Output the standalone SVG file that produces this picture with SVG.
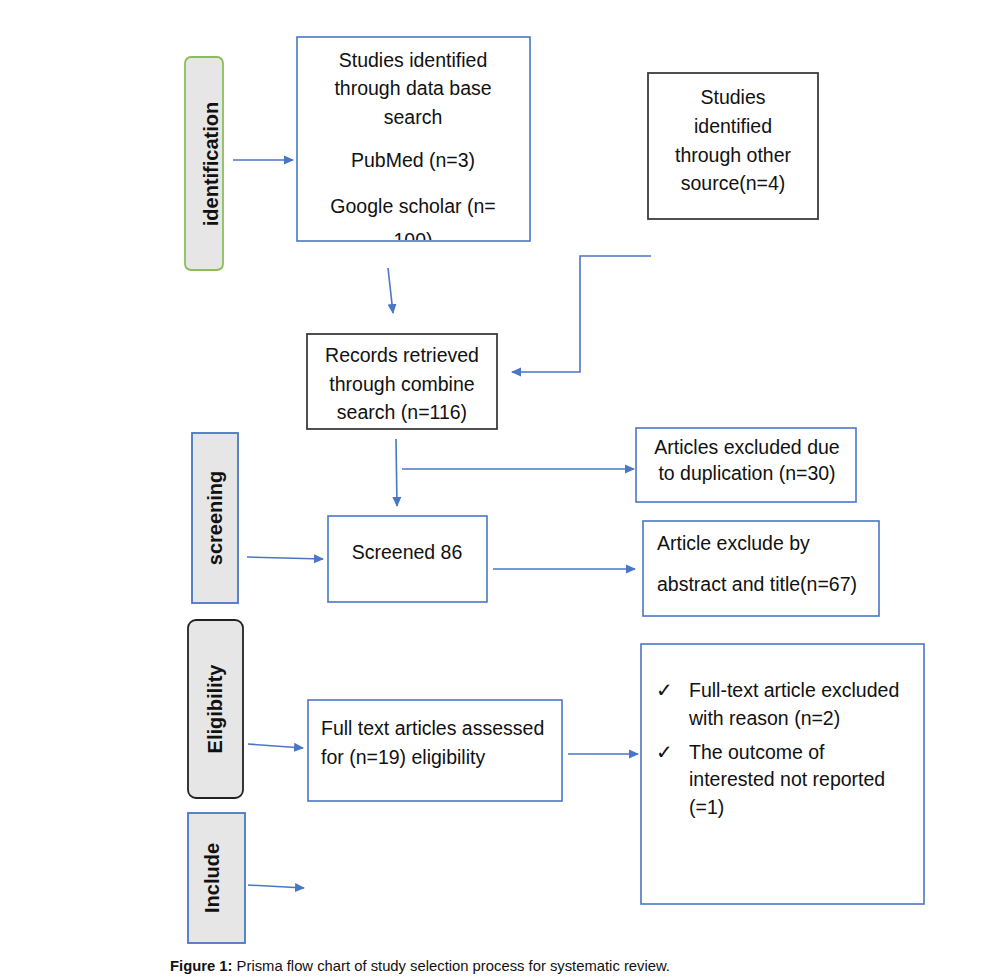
<svg xmlns="http://www.w3.org/2000/svg" width="1007" height="979" viewBox="0 0 1007 979">
<style>
.bx{fill:#fff;stroke:#4a76c6;stroke-width:1.6}
.bd{fill:#fff;stroke:#3c3c3c;stroke-width:1.8}
.lb{fill:#e6e6e6;stroke-width:1.8}
.t{font-family:"Liberation Sans",Arial,sans-serif;font-size:19.5px;fill:#111}
.c{text-anchor:middle}
.lt{font-family:"Liberation Sans",Arial,sans-serif;font-weight:bold;font-size:20px;fill:#111;text-anchor:middle}
.cn{fill:none;stroke:#4a76c6;stroke-width:1.6}
.cap{font-family:"Liberation Sans",Arial,sans-serif;font-size:14.8px;fill:#111}
</style>
<defs>
<marker id="ah" viewBox="0 0 10 10" refX="9" refY="5" markerWidth="10" markerHeight="10" orient="auto" markerUnits="userSpaceOnUse">
<path d="M0,0.5 L10,5 L0,9.5 z" fill="#4a76c6"/>
</marker>
<clipPath id="clipTop"><rect x="297" y="37" width="233" height="203"/></clipPath>
</defs>

<g id="label-identification">
<rect class="lb" x="185" y="57" width="38" height="213" rx="6" stroke="#8dbd5a"/>
<text class="lt" transform="translate(218,164) rotate(-90)">identification</text>
</g>
<g id="label-screening">
<rect class="lb" x="192" y="433" width="46" height="170" stroke="#4a76c6"/>
<text class="lt" transform="translate(222,518) rotate(-90)">screening</text>
</g>
<g id="label-eligibility">
<rect class="lb" x="188" y="620" width="55" height="178" rx="8" stroke="#222"/>
<text class="lt" transform="translate(222,709) rotate(-90)">Eligibility</text>
</g>
<g id="label-include">
<rect class="lb" x="188" y="813" width="57" height="130" stroke="#4a76c6"/>
<text class="lt" transform="translate(219,878) rotate(-90)">Include</text>
</g>

<g id="node-database">
<rect class="bx" x="297" y="37" width="233" height="204"/>
<g clip-path="url(#clipTop)">
<text class="t c" x="413" y="67">Studies identified</text>
<text class="t c" x="413" y="95">through data base</text>
<text class="t c" x="413" y="124">search</text>
<text class="t c" x="413" y="167">PubMed (n=3)</text>
<text class="t c" x="413" y="213">Google scholar (n=</text>
<text class="t c" x="413" y="247">100)</text>
</g>
</g>

<g id="node-other">
<rect class="bd" x="648" y="73" width="170" height="146"/>
<text class="t c" x="733" y="104">Studies</text>
<text class="t c" x="733" y="133">identified</text>
<text class="t c" x="733" y="162">through other</text>
<text class="t c" x="733" y="190">source(n=4)</text>
</g>

<g id="node-records">
<rect class="bd" x="307" y="334" width="190" height="95"/>
<text class="t c" x="402" y="362">Records retrieved</text>
<text class="t c" x="402" y="391">through combine</text>
<text class="t c" x="402" y="419">search (n=116)</text>
</g>

<g id="node-duplication">
<rect class="bx" x="636" y="428" width="220" height="74"/>
<text class="t c" x="747" y="454">Articles excluded due</text>
<text class="t c" x="747" y="480">to duplication (n=30)</text>
</g>

<g id="node-screened">
<rect class="bx" x="328" y="516" width="159" height="86"/>
<text class="t c" x="407" y="559">Screened 86</text>
</g>

<g id="node-abstract">
<rect class="bx" x="643" y="521" width="236" height="95"/>
<text class="t" x="657" y="550">Article exclude by</text>
<text class="t" x="657" y="591">abstract and title(n=67)</text>
</g>

<g id="node-fulltext">
<rect class="bx" x="308" y="700" width="254" height="101"/>
<text class="t" x="321" y="735">Full text articles assessed</text>
<text class="t" x="321" y="764">for (n=19) eligibility</text>
</g>

<g id="node-excluded">
<rect class="bx" x="641" y="644" width="283" height="260"/>
<text class="t" x="656" y="697">✓</text>
<text class="t" x="689" y="697">Full-text article excluded</text>
<text class="t" x="689" y="725">with reason (n=2)</text>
<text class="t" x="656" y="759">✓</text>
<text class="t" x="689" y="759">The outcome of</text>
<text class="t" x="689" y="786">interested not reported</text>
<text class="t" x="689" y="814">(=1)</text>
</g>

<g id="connectors">
<line class="cn" x1="233" y1="160" x2="293" y2="160" marker-end="url(#ah)"/>
<line class="cn" x1="388" y1="268" x2="393" y2="313" marker-end="url(#ah)"/>
<polyline class="cn" points="651,256 580,256 580,372 512,372" marker-end="url(#ah)"/>
<line class="cn" x1="396" y1="439" x2="397" y2="506" marker-end="url(#ah)"/>
<line class="cn" x1="402" y1="469" x2="634" y2="469" marker-end="url(#ah)"/>
<line class="cn" x1="247" y1="557" x2="323" y2="559" marker-end="url(#ah)"/>
<line class="cn" x1="493" y1="569" x2="635" y2="569" marker-end="url(#ah)"/>
<line class="cn" x1="248" y1="744" x2="303" y2="748" marker-end="url(#ah)"/>
<line class="cn" x1="568" y1="754" x2="638" y2="754" marker-end="url(#ah)"/>
<line class="cn" x1="248" y1="885" x2="304" y2="888" marker-end="url(#ah)"/>
</g>

<text class="cap" x="170" y="971"><tspan font-weight="bold">Figure 1:</tspan> Prisma flow chart of study selection process for systematic review.</text>
</svg>
